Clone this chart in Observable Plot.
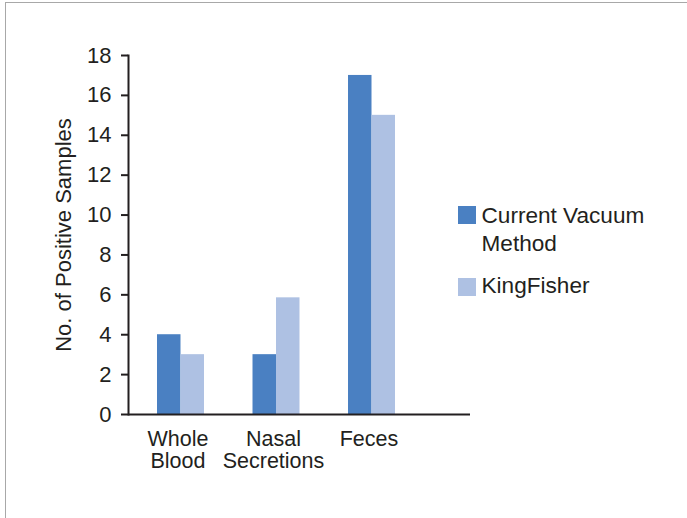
<!DOCTYPE html>
<html>
<head>
<meta charset="utf-8">
<script src="https://cdn.jsdelivr.net/npm/d3@7"></script>
<script src="https://cdn.jsdelivr.net/npm/@observablehq/plot@0.6"></script>
<style>
  html, body { margin: 0; padding: 0; background: #fff; }
  #wrap { position: relative; width: 687px; height: 518px; overflow: hidden; font-family: "Liberation Sans", Arial, sans-serif; color: #231f20; }
  #border { position: absolute; left: 5px; top: 2px; right: -10px; bottom: -10px; border-left: 1px solid #a8a8a8; border-top: 1px solid #a8a8a8; }
  #chart { position: absolute; left: 0; top: 0; }
  .leg { position: absolute; font-size: 22.6px; line-height: 28px; white-space: nowrap; }
  .sw { position: absolute; width: 18px; height: 18px; }
</style>
</head>
<body>
<div id="wrap">
  <div id="border"></div>
  <div id="chart"></div>
  <div id="legend"></div>
</div>
<script>
const categories = ["Whole\nBlood", "Nasal\nSecretions", "Feces"];
const series = ["Current Vacuum\nMethod", "KingFisher"];
const currentVacuum = [4, 3, 17];
const kingFisher = [3, 5.85, 15];
const yTicks = [0, 2, 4, 6, 8, 10, 12, 14, 16, 18];
const colors = ["#4a80c2", "#aec1e3"];

const dataA = categories.map((c, i) => ({category: c, value: currentVacuum[i]}));
const dataB = categories.map((c, i) => ({category: c, value: kingFisher[i]}));

const plot = Plot.plot({
  width: 687,
  height: 518,
  marginLeft: 128,
  marginRight: 217,
  marginTop: 55,
  marginBottom: 104,
  style: {fontSize: "21.5px", fontFamily: "'Liberation Sans', Arial, sans-serif", color: "#231f20", background: "transparent"},
  x: {domain: categories, range: [157, 395], paddingInner: 0.508, paddingOuter: 0, round: false},
  y: {domain: [0, 18], ticks: yTicks},
  marks: [
    Plot.barY(dataA, {x: "category", y: "value", fill: colors[0], insetLeft: 0, insetRight: 23.5}),
    Plot.barY(dataB, {x: "category", y: "value", fill: colors[1], insetLeft: 23.5, insetRight: 0}),
    Plot.axisY({ticks: yTicks, tickSize: 7, tickPadding: 10, strokeWidth: 2, stroke: "#231f20",
      label: "No. of Positive Samples", labelAnchor: "center", labelOffset: 73, labelArrow: "none", fontSize: 22}),
    Plot.axisX({tickSize: 0, tickPadding: 15, label: null, lineHeight: 1.056, dx: -3}),
    Plot.frame({anchor: "left", stroke: "#231f20", strokeWidth: 2}),
    Plot.ruleY([0], {stroke: "#231f20", strokeWidth: 2})
  ]
});
document.getElementById("chart").appendChild(plot);

// legend
const legend = document.getElementById("legend");
const legTops = [202.2, 271.5];
const swTops = [206, 277.5];
series.forEach((s, i) => {
  const sw = document.createElement("div");
  sw.className = "sw";
  sw.style.left = "458px";
  sw.style.top = swTops[i] + "px";
  sw.style.background = colors[i];
  legend.appendChild(sw);
  const t = document.createElement("div");
  t.className = "leg";
  t.style.left = "481.5px";
  t.style.top = legTops[i] + "px";
  t.innerHTML = s.split("\n").join("<br>");
  legend.appendChild(t);
});
</script>
</body>
</html>
